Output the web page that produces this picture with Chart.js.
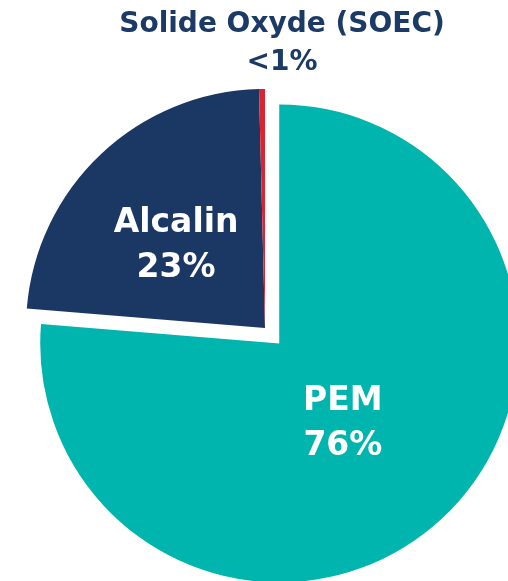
<!DOCTYPE html>
<html>
<head>
<meta charset="utf-8">
<script src="https://cdn.jsdelivr.net/npm/chart.js@4.4.1/dist/chart.umd.min.js"></script>
<style>
  html, body { margin: 0; padding: 0; background: #ffffff; overflow: hidden; }
  #wrap { position: relative; width: 508px; height: 581px; }
</style>
</head>
<body>
<div id="wrap"><canvas id="c" width="508" height="581"></canvas></div>
<script>
const categories = ["PEM", "Alcalin", "Solide Oxyde (SOEC)"];
const values = [76.3, 23.3, 0.4];
const valueLabels = ["76%", "23%", "<1%"];
const colors = ["#00B5AD", "#1B3764", "#DC2430"];
const explode = [21, 0, 0];

const FONT = '"DejaVu Sans", sans-serif';
const NAVY = "#1B3A66";

// Pull a slice out of the pie along its mid-angle without growing its radius
const explodePlugin = {
  id: 'explode',
  afterDatasetsUpdate(chart) {
    const meta = chart.getDatasetMeta(0);
    meta.data.forEach((arc, i) => {
      const d = explode[i] || 0;
      if (!d) return;
      const mid = (arc.startAngle + arc.endAngle) / 2;
      arc.x += Math.cos(mid) * d;
      arc.y += Math.sin(mid) * d;
    });
  }
};

const labelPlugin = {
  id: 'sliceLabels',
  afterDatasetsDraw(chart) {
    const ctx = chart.ctx;
    const meta = chart.getDatasetMeta(0);
    ctx.save();
    ctx.textAlign = 'center';
    ctx.textBaseline = 'middle';
    const factors = [0.43, 0.505];
    const nudges = [[-6, 5], [-6, 6]];
    const lineGap = 45;
    for (let i = 0; i < 2; i++) {
      const arc = meta.data[i];
      const mid = (arc.startAngle + arc.endAngle) / 2;
      const r = arc.outerRadius * factors[i];
      const x = arc.x + Math.cos(mid) * r + nudges[i][0];
      const y = arc.y + Math.sin(mid) * r + nudges[i][1];
      ctx.fillStyle = '#ffffff';
      ctx.font = 'bold 33px ' + FONT;
      ctx.fillText(categories[i], x, y - lineGap / 2);
      ctx.fillText(valueLabels[i], x, y + lineGap / 2);
    }
    ctx.fillStyle = NAVY;
    ctx.font = 'bold 28px ' + FONT;
    ctx.fillText(categories[2], 282, 25);
    ctx.fillText(valueLabels[2], 282, 63);
    ctx.restore();
  }
};

new Chart(document.getElementById('c'), {
  type: 'pie',
  data: {
    labels: categories,
    datasets: [{
      data: values,
      backgroundColor: colors,
      borderWidth: 0,
      hoverOffset: 0
    }]
  },
  options: {
    responsive: false,
    animation: false,
    events: [],
    radius: 239,
    layout: { padding: { left: 22, top: 75, right: 0, bottom: 0 } },
    plugins: {
      legend: { display: false },
      tooltip: { enabled: false },
      title: { display: false }
    }
  },
  plugins: [explodePlugin, labelPlugin]
});
</script>
</body>
</html>
